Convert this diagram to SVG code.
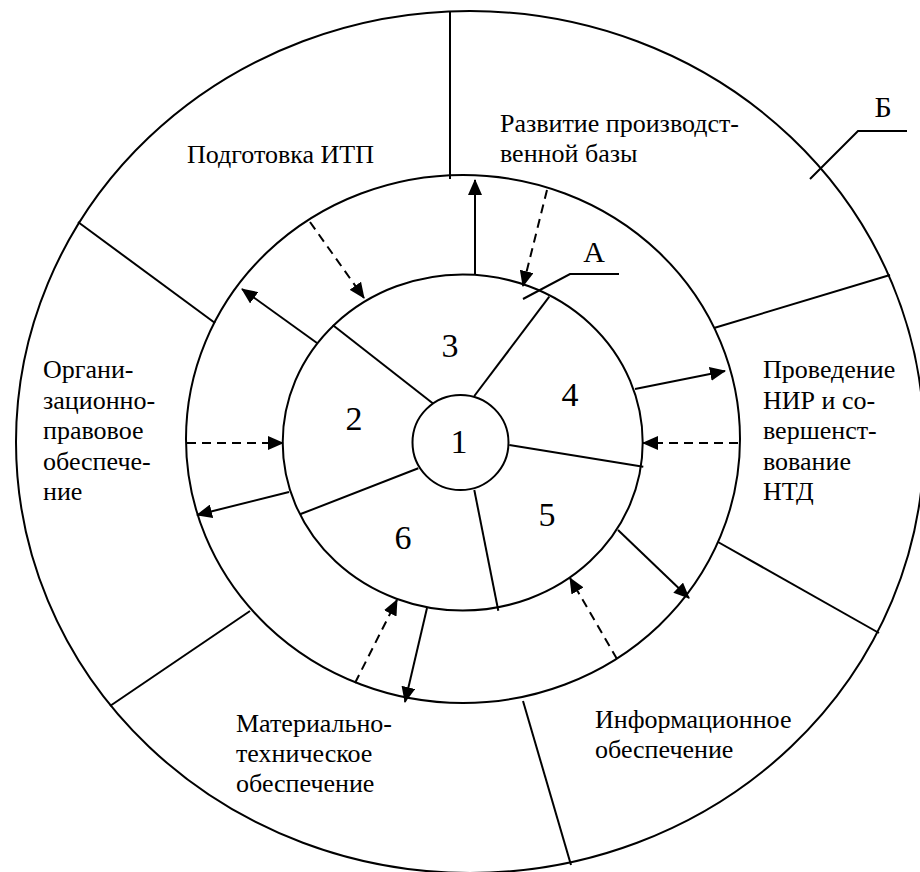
<svg xmlns="http://www.w3.org/2000/svg" width="920" height="872" viewBox="0 0 920 872">
<style>
.ring{fill:none;stroke:#000;stroke-width:2}
.dv{stroke:#000;stroke-width:2;fill:none}
.sol{stroke:#000;stroke-width:2;fill:none;marker-end:url(#ah)}
.dash{stroke:#000;stroke-width:2;fill:none;stroke-dasharray:9 6;marker-end:url(#ah)}
text{font-family:'Liberation Serif','Times New Roman','DejaVu Serif',serif;fill:#000}
.lbl{font-size:26px}
.num{font-size:34px;text-anchor:middle}
.let{font-size:30px;text-anchor:middle}
</style>
<defs>
<marker id="ah" markerUnits="userSpaceOnUse" markerWidth="16" markerHeight="14" refX="15" refY="7" orient="auto"><path d="M0,0 L16,7 L0,14 z" fill="#000"/></marker>
</defs>
<rect width="920" height="872" fill="#fff"/>

<g id="ring-B">
<ellipse class="ring" cx="470" cy="442" rx="454" ry="431"/>
<ellipse class="ring" cx="463" cy="439" rx="277" ry="264"/>
<line class="dv" x1="450" y1="11" x2="450" y2="179"/>
<line class="dv" x1="78" y1="222" x2="215" y2="323"/>
<line class="dv" x1="110" y1="706" x2="250" y2="611"/>
<line class="dv" x1="523" y1="701" x2="571" y2="865"/>
<line class="dv" x1="718" y1="542" x2="879" y2="633"/>
<line class="dv" x1="714" y1="328" x2="890" y2="275"/>
<polyline class="dv" points="810,179 858,131 907,131"/>
<text class="let" x="883" y="117" font-family="Liberation Serif, serif">Б</text>
</g>

<g id="node-itp" font-family="Liberation Serif, serif"><text class="lbl" x="187" y="163">Подготовка ИТП</text></g>
<g id="node-base" font-family="Liberation Serif, serif"><text class="lbl" x="500" y="132">Развитие производст-</text><text class="lbl" x="500" y="162">венной базы</text></g>
<g id="node-org" font-family="Liberation Serif, serif"><text class="lbl" x="43" y="378">Органи-</text><text class="lbl" x="43" y="408.5">зационно-</text><text class="lbl" x="43" y="439">правовое</text><text class="lbl" x="43" y="469.5">обеспече-</text><text class="lbl" x="43" y="500">ние</text></g>
<g id="node-nir" font-family="Liberation Serif, serif"><text class="lbl" x="763" y="378">Проведение</text><text class="lbl" x="763" y="408.5">НИР и со-</text><text class="lbl" x="763" y="439">вершенст-</text><text class="lbl" x="763" y="469.5">вование</text><text class="lbl" x="763" y="500">НТД</text></g>
<g id="node-mat" font-family="Liberation Serif, serif"><text class="lbl" x="236" y="732">Материально-</text><text class="lbl" x="236" y="762">техническое</text><text class="lbl" x="236" y="792">обеспечение</text></g>
<g id="node-info" font-family="Liberation Serif, serif"><text class="lbl" x="595" y="728">Информационное</text><text class="lbl" x="595" y="758">обеспечение</text></g>

<g id="ring-A">
<ellipse class="ring" cx="462.7" cy="442.5" rx="180" ry="168"/>
<line class="dv" x1="432.7" y1="403.3" x2="332.7" y2="325"/>
<line class="dv" x1="474.3" y1="396" x2="549.3" y2="296.7"/>
<line class="dv" x1="509.3" y1="445" x2="643.3" y2="466.7"/>
<line class="dv" x1="474.3" y1="490" x2="498.3" y2="610.7"/>
<line class="dv" x1="418.3" y1="468.3" x2="300" y2="514.3"/>
<polyline class="dv" points="523,299 570,274 619,274"/>
<text class="let" x="594" y="262">А</text>
</g>
<g id="node-2"><text class="num" x="354" y="430">2</text></g>
<g id="node-3"><text class="num" x="450" y="357">3</text></g>
<g id="node-4"><text class="num" x="570" y="406">4</text></g>
<g id="node-5"><text class="num" x="547" y="526">5</text></g>
<g id="node-6"><text class="num" x="403" y="549">6</text></g>
<g id="node-1">
<ellipse class="ring" cx="460.5" cy="442.5" rx="48" ry="47.5"/>
<text class="num" x="459" y="453">1</text>
</g>

<g id="connectors">
<line class="sol" x1="475" y1="275" x2="475" y2="180"/>
<line class="sol" x1="317" y1="343" x2="242" y2="289"/>
<line class="sol" x1="635" y1="389" x2="725" y2="371"/>
<line class="sol" x1="289" y1="492" x2="197" y2="515"/>
<line class="sol" x1="618" y1="530" x2="689" y2="598"/>
<line class="sol" x1="427" y1="608" x2="405" y2="702"/>
<line class="dash" x1="310" y1="222" x2="364" y2="298"/>
<line class="dash" x1="547" y1="190" x2="523" y2="286"/>
<line class="dash" x1="187" y1="443" x2="283" y2="443"/>
<line class="dash" x1="738" y1="443" x2="643" y2="443"/>
<line class="dash" x1="617" y1="659" x2="570" y2="578"/>
<line class="dash" x1="355" y1="683" x2="397" y2="600"/>
</g>
</svg>
